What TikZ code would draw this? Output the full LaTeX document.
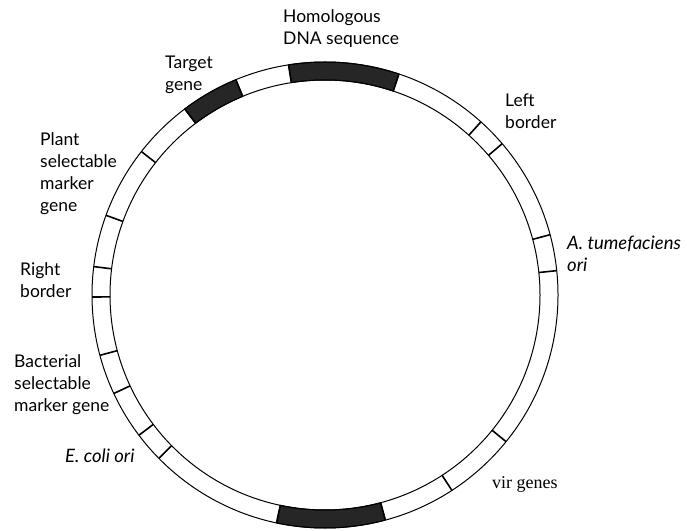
\documentclass[tikz,border=0pt]{standalone}
\usepackage{fontspec}
\setmainfont{Lato}
\newfontfamily\serifface{Liberation Serif}
\begin{document}
\begin{tikzpicture}[x=1pt,y=1pt,
  ringline/.style={line width=1.0pt},
  tickline/.style={line width=1.6pt},
  darkseg/.style={fill=black!85,draw=black,line width=1.0pt},
  lbl/.style={inner sep=0pt,anchor=north west,align=left,font=\fontsize{17.5}{22}\selectfont},
  itl/.style={lbl,font=\fontsize{18.5}{22}\selectfont\itshape}]
\useasboundingbox (0,0) rectangle (687,530);
\coordinate (c) at (325,235);
\def\Ro{233}\def\Ri{215}
\begin{scope}[shift={(c)}]
  % dark segments
  \foreach \a/\b in {71.5/99, 112.5/127, 258/285}{
    \path[darkseg] (\a:\Ro) arc[start angle=\a,end angle=\b,radius=\Ro] -- (\b:\Ri) arc[start angle=\b,end angle=\a,radius=\Ri] -- cycle;
  }
  \draw[ringline] (0,0) circle[radius=\Ro];
  \draw[ringline] (0,0) circle[radius=\Ri];
  % segment boundaries
  \foreach \a in {71.5,99,112.5,127,142,160,173,180.5,195,205,217,224.5,258,285,303,321,6,15,40.5,48}{
    \draw[tickline] (\a:\Ri) -- (\a:\Ro);
  }
\end{scope}
\node[lbl] (homol) at (283,521) {Homologous\\DNA sequence};
\node[lbl] (target) at (165,474) {Target\\gene};
\node[lbl] (leftb) at (505,436) {Left\\border};
\node[lbl] (plant) at (40,398) {Plant\\selectable\\marker\\gene};
\node[lbl] (rightb) at (20,268) {Right\\border};
\node[lbl] (bact) at (14,176) {Bacterial\\selectable\\marker gene};
\node[itl] (ecoli) at (65,81) {E. coli ori};
\node[itl] (atum) at (567,294) {A. tumefaciens\\ori};
\node[lbl] (vir) at (492,54) {\serifface\fontsize{18}{22}\selectfont vir genes};
\end{tikzpicture}
\end{document}
